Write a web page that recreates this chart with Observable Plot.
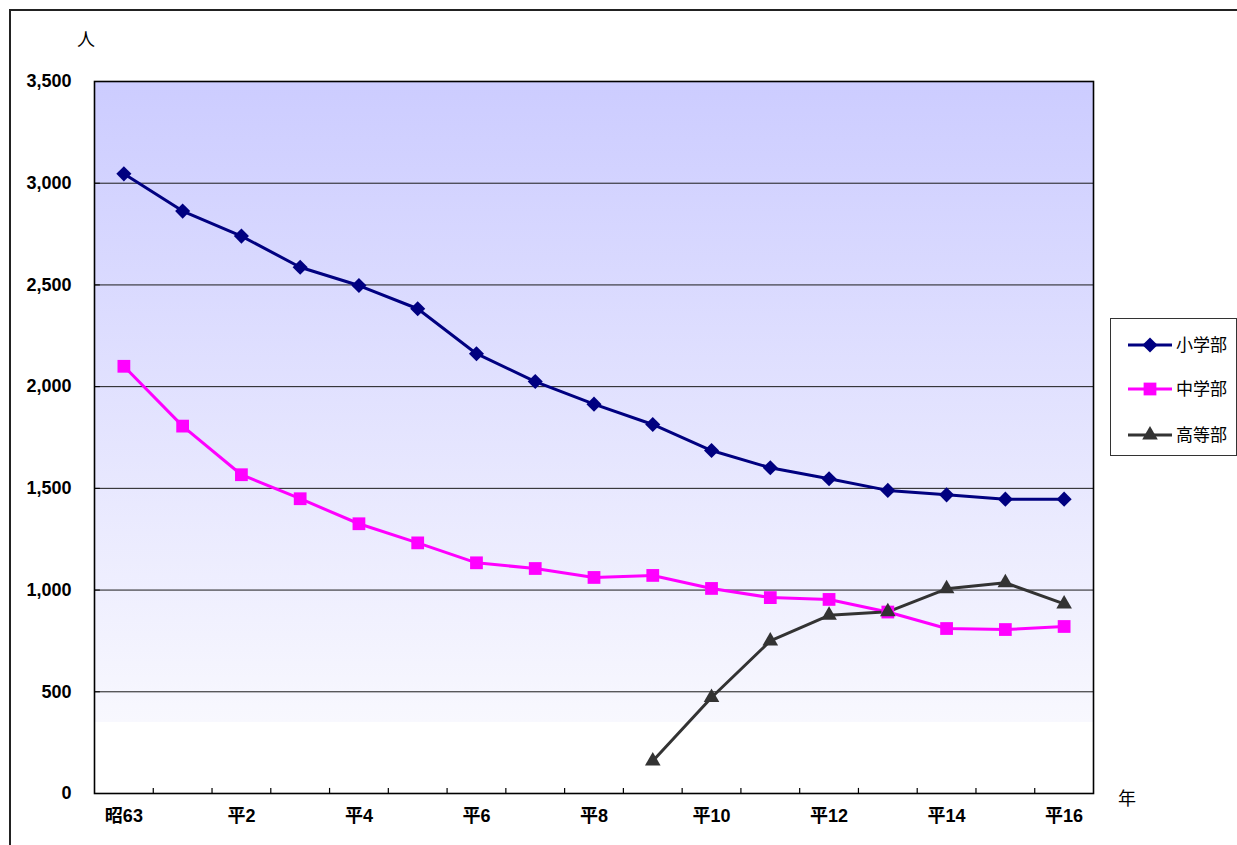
<!DOCTYPE html>
<html><head><meta charset="utf-8">
<script src="https://cdn.jsdelivr.net/npm/d3@7"></script>
<script src="https://cdn.jsdelivr.net/npm/@observablehq/plot@0.6"></script>
<style>
body{margin:0;background:#fff;overflow:hidden;}
#chart svg{display:block;}
#chart svg g[aria-label$="tick label"]{font-size:18px;font-weight:bold;}
</style>
</head><body><div id="chart"></div>
<script>
// ---- data ----
const years = ["昭63","平1","平2","平3","平4","平5","平6","平7","平8","平9","平10","平11","平12","平13","平14","平15","平16"];
const elementary = [3046, 2863, 2740, 2587, 2497, 2383, 2162, 2025, 1914, 1814, 1686, 1601, 1547, 1490, 1468, 1447, 1447];
const juniorHigh = [2100, 1806, 1567, 1449, 1326, 1232, 1134, 1106, 1062, 1072, 1008, 963, 954, 892, 811, 806, 821];
const highSchool = [null, null, null, null, null, null, null, null, null, 160, 472, 750, 876, 893, 1006, 1036, 932];
const yTicks = [0, 500, 1000, 1500, 2000, 2500, 3000, 3500];
const xLabelYears = ["昭63","平2","平4","平6","平8","平10","平12","平14","平16"];
const seriesNames = ["小学部","中学部","高等部"];
const seriesColors = ["#000080","#ff00ff","#333333"];
const seriesSymbols = ["diamond2","square","triangle"];
const seriesRadius = [6.8, 7.2, 5.8];
const yUnit = "人";
const xUnit = "年";

// ---- table ----
const seriesArrays = [elementary, juniorHigh, highSchool];
const rows = [];
years.forEach((yr, i) => {
  seriesArrays.forEach((arr, k) => {
    if (arr[i] != null) rows.push({pos: i + 0.5, year: yr, series: seriesNames[k], value: arr[i]});
  });
});
const boundaries = d3.range(1, years.length);
const labelPositions = xLabelYears.map(l => years.indexOf(l) + 0.5);

const W = 1237, H = 845;
const font = "'Liberation Sans','Noto Sans CJK JP',sans-serif";

const dotMarks = seriesNames.map((s, k) => Plot.dot(rows.filter(d => d.series === s), {
  x: "pos", y: "value", symbol: () => seriesSymbols[k], fill: seriesColors[k], stroke: "none", r: seriesRadius[k]
}));

const chart = Plot.plot({
  width: W, height: H,
  marginLeft: 94, marginRight: 144, marginTop: 81, marginBottom: 52,
  style: {fontFamily: font, fontSize: "18px", color: "#000", background: "transparent", overflow: "visible"},
  x: {type: "linear", domain: [0, years.length]},
  y: {domain: [0, 3500]},
  symbol: {type: "identity"},
  marks: [
    Plot.frame({fill: "url(#bgGrad)", stroke: "none"}),
    Plot.gridY(yTicks.filter(v => v > 0 && v < 3500), {stroke: "#1a1a1a", strokeOpacity: 1, strokeWidth: 1}),
    Plot.ruleX(boundaries, {y1: 0, y2: 25, stroke: "#000", strokeWidth: 1.2}),
    Plot.ruleY(yTicks, {x1: 0, x2: 0.1, stroke: "#000", strokeWidth: 1}),
    Plot.line(rows, {x: "pos", y: "value", z: "series", stroke: d => seriesColors[seriesNames.indexOf(d.series)], strokeWidth: 3}),
    ...dotMarks,
    Plot.frame({stroke: "#000", strokeWidth: 1.6}),
    Plot.axisY({ticks: yTicks, tickFormat: d3.format(","), tickSize: 0, tickPadding: 23, label: null,
      fontSize: 18, fontWeight: "bold", fontFamily: font}),
    Plot.axisX({ticks: labelPositions, tickFormat: d => years[Math.round(d - 0.5)], tickSize: 0, tickPadding: 16, label: null,
      fontSize: 18, fontWeight: "bold", fontFamily: font})
  ]
});

// gradient background
const svg = d3.select(chart);
const defs = svg.insert("defs", ":first-child");
const grad = defs.append("linearGradient").attr("id", "bgGrad").attr("x1", 0).attr("y1", 0).attr("x2", 0).attr("y2", 1);
grad.append("stop").attr("offset", 0).attr("stop-color", "#ccccff");
grad.append("stop").attr("offset", 0.899).attr("stop-color", "#f8f8fe");
grad.append("stop").attr("offset", 0.9).attr("stop-color", "#ffffff");
grad.append("stop").attr("offset", 1).attr("stop-color", "#ffffff");

// outer border
svg.append("path").attr("d", `M10,${H + 5}V10H${W + 5}`).attr("fill", "none").attr("stroke", "#222").attr("stroke-width", 2);

// unit labels
svg.append("text").attr("x", 86).attr("y", 46).attr("text-anchor", "middle")
  .attr("font-family", "'Noto Sans CJK JP',sans-serif").attr("font-size", 18).text(yUnit);
svg.append("text").attr("x", 1127).attr("y", 805).attr("text-anchor", "middle")
  .attr("font-family", "'Noto Sans CJK JP',sans-serif").attr("font-size", 18).text(xUnit);

// legend
const lg = svg.append("g");
lg.append("rect").attr("x", 1110.5).attr("y", 318.5).attr("width", 126).attr("height", 137)
  .attr("fill", "#fff").attr("stroke", "#333").attr("stroke-width", 1);
const symMap = {diamond2: d3.symbolDiamond2, square: d3.symbolSquare, triangle: d3.symbolTriangle};
const rowY = [345, 389, 435];
seriesNames.forEach((s, k) => {
  const g = lg.append("g").attr("transform", `translate(0,${rowY[k]})`);
  g.append("line").attr("x1", 1128).attr("x2", 1172).attr("y1", 0).attr("y2", 0)
    .attr("stroke", seriesColors[k]).attr("stroke-width", 3);
  g.append("path").attr("transform", "translate(1150,0)")
    .attr("d", d3.symbol(symMap[seriesSymbols[k]], Math.PI * seriesRadius[k] ** 2)())
    .attr("fill", seriesColors[k]);
  g.append("text").attr("x", 1176).attr("y", 0).attr("dy", "0.36em").attr("text-anchor", "start")
    .attr("font-family", "'Noto Sans CJK JP',sans-serif").attr("font-size", 17).text(s);
});

document.getElementById("chart").appendChild(chart);
</script>
</body></html>
